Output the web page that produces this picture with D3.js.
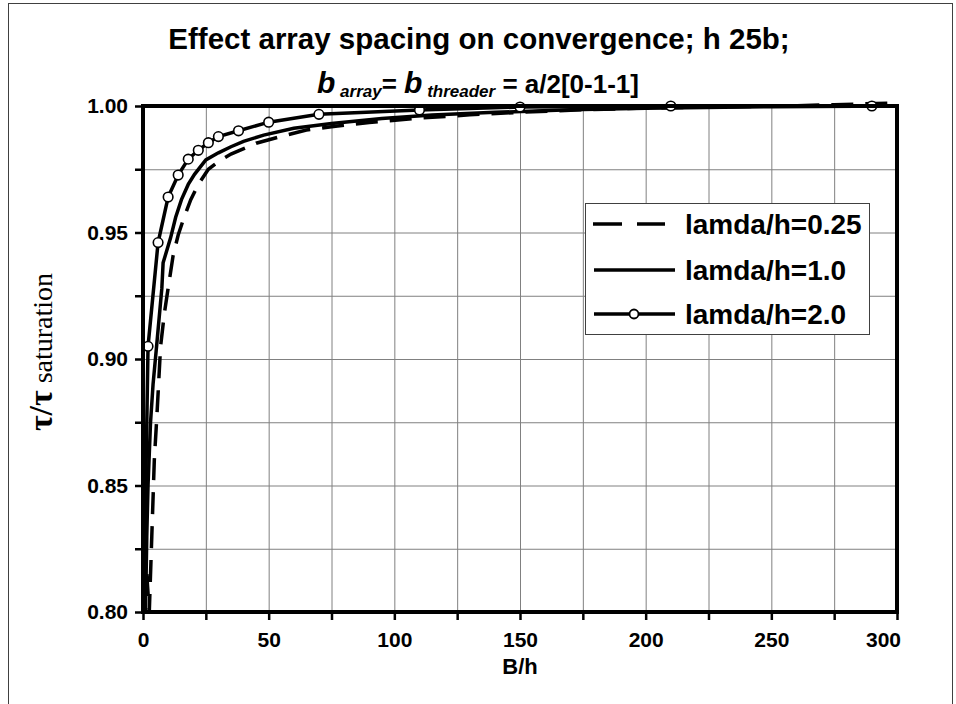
<!DOCTYPE html>
<html>
<head>
<meta charset="utf-8">
<script src="https://cdn.jsdelivr.net/npm/d3@7"></script>
<style>
  body { margin: 0; background: #fff; }
  svg { display: block; }
  .grid line { stroke: #808080; stroke-width: 1; }
  .grid path { display: none; }
  .axis path { display: none; }
  .axis line { stroke: #000; stroke-width: 2.5; }
  .axis text { font-family: "Liberation Sans", Arial, sans-serif; font-weight: bold; font-size: 21px; fill: #000; }
</style>
</head>
<body>
<div id="chart"></div>
<script>
// ---- data ----
const titleLine1 = 'Effect array spacing on convergence; h 25b;';
const xLabel = 'B/h';
const xTicks = [0, 25, 50, 75, 100, 125, 150, 175, 200, 225, 250, 275, 300];
const yTicks = [0.80, 0.825, 0.85, 0.875, 0.90, 0.925, 0.95, 0.975, 1.00];
const legendLabels = ['lamda/h=0.25', 'lamda/h=1.0', 'lamda/h=2.0'];

// lamda/h = 0.25 (dashed)
const bh025 = [1.5, 2.5, 3.5, 4.5, 5.5, 7, 8.5, 10, 12, 14, 16, 19, 22, 26, 30, 35, 45, 55, 65, 75, 90, 110, 130, 150, 175, 200, 225, 250, 275, 300];
const tau025 = [0.815, 0.80, 0.83, 0.86, 0.877, 0.905, 0.918, 0.928, 0.941, 0.949, 0.955, 0.963, 0.969, 0.975, 0.978, 0.981, 0.9853, 0.988, 0.9905, 0.9918, 0.9935, 0.9952, 0.9965, 0.9975, 0.9985, 0.9992, 0.9996, 0.9999, 1.0005, 1.0012];

// lamda/h = 1.0 (solid)
const bh10 = [1, 1.5, 2, 3, 4, 5.4, 7.5, 8, 11, 13, 15.3, 18, 20.5, 25, 30, 35, 40, 48, 60, 75, 95, 115, 140, 170, 200, 250, 300];
const tau10 = [0.80, 0.83, 0.85, 0.875, 0.89, 0.905, 0.928, 0.938, 0.948, 0.956, 0.963, 0.969, 0.973, 0.9787, 0.9815, 0.9839, 0.986, 0.9885, 0.9912, 0.9931, 0.9951, 0.9964, 0.9975, 0.9985, 0.9991, 0.9997, 1.0];

// lamda/h = 2.0 (solid with circles)
const bh20 = [0.3, 2, 6, 10, 14, 18, 22, 26, 30, 38, 50, 70, 110, 150, 210, 290];
const tau20 = [0.80, 0.905, 0.946, 0.964, 0.9727, 0.979, 0.9825, 0.9855, 0.9879, 0.9902, 0.9936, 0.9967, 0.9984, 0.9996, 1.0, 1.0];

// ---- layout ----
var W = 956, H = 704;
var margin = {top: 106, right: 59, bottom: 92, left: 143};
var width = W - margin.left - margin.right;
var height = H - margin.top - margin.bottom;

var svg = d3.select('#chart').append('svg')
  .attr('width', W)
  .attr('height', H);

// outer frame
svg.append('rect')
  .attr('x', 8.5).attr('y', 3.5)
  .attr('width', 944).attr('height', 720)
  .attr('fill', 'none')
  .attr('stroke', '#404040')
  .attr('stroke-width', 1);

var g = svg.append('g')
  .attr('transform', `translate(${margin.left},${margin.top})`);

var xScale = d3.scaleLinear().domain([0, 300]).range([0, width]);
var yScale = d3.scaleLinear().domain([0.80, 1.00]).range([height, 0]);

// grid
g.append('g')
  .attr('class', 'grid')
  .attr('transform', `translate(0,${height})`)
  .call(d3.axisBottom(xScale).tickValues(xTicks).tickSize(-height).tickFormat(''));
g.append('g')
  .attr('class', 'grid')
  .call(d3.axisLeft(yScale).tickValues(yTicks).tickSize(-width).tickFormat(''));

// axes (ticks outside)
var isMajor = d => Math.abs(Math.round(d * 1000) % 50) < 1;
var yAxis = g.append('g')
  .attr('class', 'axis')
  .call(d3.axisLeft(yScale).tickValues(yTicks).tickSize(8).tickPadding(7)
    .tickFormat(d => isMajor(d) ? d3.format('.2f')(d) : ''));
var xAxis = g.append('g')
  .attr('class', 'axis')
  .attr('transform', `translate(0,${height})`)
  .call(d3.axisBottom(xScale).tickValues(xTicks).tickSize(8).tickPadding(12)
    .tickFormat(d => d % 50 === 0 ? d : ''));
// last label sits a bit inside, as in the original
xAxis.selectAll('.tick text').filter(d => d === 300).attr('dx', -14);

// series
var line = d3.line()
  .x(d => xScale(d.x))
  .y(d => yScale(d.y));

var zip = (xs, ys) => xs.map((x, i) => ({x: x, y: ys[i]}));
var s025 = zip(bh025, tau025);
var s10 = zip(bh10, tau10);
var s20 = zip(bh20, tau20);

var dataArea = g.append('g').attr('class', 'data-area');
dataArea.append('path').datum(s025)
  .attr('d', line)
  .attr('fill', 'none').attr('stroke', '#000')
  .attr('stroke-width', 3.5).attr('stroke-dasharray', '22,12');
dataArea.append('path').datum(s10)
  .attr('d', line)
  .attr('fill', 'none').attr('stroke', '#000')
  .attr('stroke-width', 3.5);
dataArea.append('path').datum(s20)
  .attr('d', line)
  .attr('fill', 'none').attr('stroke', '#000')
  .attr('stroke-width', 3.5);
dataArea.selectAll('circle.marker')
  .data(s20.filter(d => d.x >= 1))
  .enter().append('circle')
  .attr('class', 'marker')
  .attr('cx', d => xScale(d.x))
  .attr('cy', d => yScale(d.y))
  .attr('r', 4.8)
  .attr('fill', '#fff')
  .attr('stroke', '#000')
  .attr('stroke-width', 1.6);

// plot border
g.append('rect')
  .attr('width', width).attr('height', height)
  .attr('fill', 'none')
  .attr('stroke', '#000')
  .attr('stroke-width', 4);

// legend
var legend = g.append('g')
  .attr('transform', `translate(${585 - margin.left},${203 - margin.top})`);
legend.append('rect')
  .attr('x', 0.5).attr('y', 0.5)
  .attr('width', 284).attr('height', 131)
  .attr('fill', '#fff')
  .attr('stroke', '#404040')
  .attr('stroke-width', 1);
var rowY = [21, 67, 111];
legendLabels.forEach((lab, i) => {
  var row = legend.append('g').attr('transform', `translate(0,${rowY[i]})`);
  var ln = row.append('line')
    .attr('x1', 9).attr('x2', 90)
    .attr('y1', 0).attr('y2', 0)
    .attr('stroke', '#000').attr('stroke-width', 3.5);
  if (i === 0) ln.attr('x1', 8).attr('x2', 80).attr('stroke-dasharray', '29,15');
  if (i === 2) {
    row.append('circle')
      .attr('cx', 49).attr('cy', 0).attr('r', 4.5)
      .attr('fill', '#fff').attr('stroke', '#000').attr('stroke-width', 1.8);
  }
  row.append('text')
    .attr('x', 100).attr('y', 0)
    .attr('dy', '0.36em')
    .style('font-family', '"Liberation Sans", Arial, sans-serif')
    .style('font-weight', 'bold')
    .style('font-size', '28px')
    .text(lab);
});

// titles
svg.append('text')
  .attr('x', 479).attr('y', 49)
  .attr('text-anchor', 'middle')
  .style('font-family', '"Liberation Sans", Arial, sans-serif')
  .style('font-weight', 'bold')
  .style('font-size', '29.5px')
  .text(titleLine1);

var t2 = svg.append('text')
  .attr('x', 478).attr('y', 93)
  .attr('text-anchor', 'middle')
  .style('font-family', '"Liberation Sans", Arial, sans-serif')
  .style('font-weight', 'bold')
  .style('font-size', '26px');
t2.append('tspan').style('font-style', 'italic').style('font-size', '30px').text('b');
t2.append('tspan').style('font-style', 'italic').style('font-size', '17px').attr('dy', 4).text(' array');
t2.append('tspan').attr('dy', -4).text('= ');
t2.append('tspan').style('font-style', 'italic').style('font-size', '30px').text('b');
t2.append('tspan').style('font-style', 'italic').style('font-size', '17px').attr('dy', 4).text(' threader');
t2.append('tspan').attr('dy', -4).text('  = a/2[0-1-1]');

// axis titles
svg.append('text')
  .attr('x', margin.left + width / 2).attr('y', 674)
  .attr('text-anchor', 'middle')
  .style('font-family', '"Liberation Sans", Arial, sans-serif')
  .style('font-weight', 'bold')
  .style('font-size', '22px')
  .text(xLabel);

var yt = svg.append('text')
  .attr('transform', 'translate(52,352) rotate(-90)')
  .attr('text-anchor', 'middle')
  .style('font-family', '"Liberation Serif", "Times New Roman", serif')
  .style('font-size', '28px');
yt.append('tspan').style('font-weight', 'bold').style('font-size', '34px').text('τ/τ');
yt.append('tspan').text(' saturation');
</script>
</body>
</html>
